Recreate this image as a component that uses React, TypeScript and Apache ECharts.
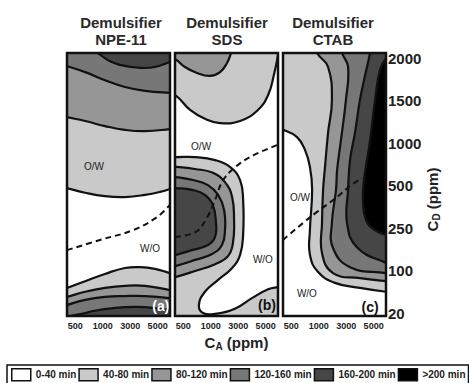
import React, { useEffect, useRef } from 'react';
import * as echarts from 'echarts';

// ---------- axes / categories ----------
const CA_LABELS = ['500', '1000', '3000', '5000'];
const CD_LABELS = ['20', '100', '250', '500', '1000', '1500', '2000'];
const CLASS_NAMES = ['0-40 min', '40-80 min', '80-120 min', '120-160 min', '160-200 min', '>200 min'];
const PANEL_TITLES = ['Demulsifier\nNPE-11', 'Demulsifier\nSDS', 'Demulsifier\nCTAB'];

// ---------- contour lines, points are [CA position, CD position] ----------
// (a) NPE-11
const NPE_160_TOP = [[0.68, 6.3], [1.08, 6.0], [1.63, 5.84], [2.36, 5.77], [2.9, 5.79], [3.45, 5.91], [3.65, 5.96]];
const NPE_120_TOP = [[-0.5, 5.84], [-0.3, 5.81], [0.36, 5.67], [1.08, 5.48], [1.81, 5.32], [2.54, 5.23], [3.45, 5.18], [3.65, 5.18]];
const NPE_80_TOP = [[-0.5, 4.64], [-0.3, 4.61], [0.36, 4.52], [1.08, 4.4], [1.81, 4.31], [2.54, 4.28], [3.45, 4.33], [3.65, 4.35]];
const NPE_40_TOP = [[-0.5, 2.97], [-0.3, 2.94], [0.36, 2.83], [1.08, 2.75], [1.81, 2.73], [2.54, 2.78], [3.09, 2.85], [3.45, 2.92], [3.65, 2.97]];
const NPE_40_BOTTOM = [[-0.5, 0.56], [-0.3, 0.59], [0.36, 0.75], [1.08, 0.92], [1.81, 1.06], [2.36, 1.08], [2.9, 1.04], [3.45, 0.94], [3.65, 0.92]];
const NPE_80_BOTTOM = [[-0.5, 0.35], [-0.3, 0.38], [0.36, 0.5], [1.08, 0.59], [1.81, 0.64], [2.54, 0.64], [3.45, 0.54], [3.65, 0.52]];
const NPE_120_BOTTOM = [[-0.5, 0.14], [-0.3, 0.19], [0.36, 0.31], [1.08, 0.38], [1.81, 0.4], [2.54, 0.4], [3.45, 0.35], [3.65, 0.33]];
const NPE_160_BOTTOM = [[-0.3, -0.2], [0.36, 0.0], [1.08, 0.09], [1.81, 0.14], [2.54, 0.14], [3.45, 0.07], [3.65, 0.05]];
const NPE_BOUNDARY = [[-0.3, 1.48], [0.9, 1.72], [2.1, 1.95], [2.98, 2.26], [3.45, 2.55]];
const NPE_NOTES: [string, number, number][] = [['O/W', 0.68, 3.46], ['W/O', 2.72, 1.53], ['(a)', 3.12, 0.17]];

// (b) SDS
const SDS_80_TOP = [[-0.5, 6.0], [-0.26, 5.96], [0.06, 5.79], [0.5, 5.65], [0.97, 5.58], [1.34, 5.67], [1.59, 5.88], [1.74, 6.12], [1.81, 6.3]];
const SDS_40_TOP = [[-0.5, 5.13], [-0.26, 5.11], [0.25, 4.78], [0.79, 4.57], [1.34, 4.47], [2.07, 4.52], [2.72, 4.78], [3.09, 5.13], [3.3, 5.6], [3.45, 6.07], [3.5, 6.3]];
const SDS_40_MID = [[-0.5, 3.67], [-0.26, 3.67], [0.43, 3.67], [1.16, 3.6], [1.7, 3.44], [2.07, 3.13], [2.18, 2.66], [2.18, 1.84], [2.07, 1.37], [1.78, 1.06], [1.27, 0.78], [0.79, 0.5], [0.57, 0.19], [0.72, 0.0], [1.16, -0.02], [1.88, 0.1], [2.5, 0.35], [3.09, 0.56], [3.45, 0.61], [3.65, 0.62]];
const SDS_80_MID = [[-0.5, 3.44], [-0.26, 3.44], [0.43, 3.39], [1.08, 3.3], [1.52, 3.08], [1.78, 2.73], [1.85, 2.19], [1.81, 1.65], [1.63, 1.34], [1.16, 1.15], [0.43, 0.99], [-0.26, 0.85], [-0.5, 0.82]];
const SDS_120_MID = [[-0.5, 3.2], [-0.26, 3.2], [0.36, 3.13], [0.9, 3.01], [1.27, 2.78], [1.49, 2.42], [1.52, 1.95], [1.41, 1.6], [1.05, 1.39], [0.43, 1.25], [-0.26, 1.11], [-0.5, 1.08]];
const SDS_160_MID = [[-0.5, 2.94], [-0.26, 2.94], [0.32, 2.9], [0.79, 2.78], [1.08, 2.54], [1.19, 2.14], [1.16, 1.79], [0.9, 1.6], [0.32, 1.48], [-0.26, 1.37], [-0.5, 1.34]];
const SDS_BOUNDARY = [[-0.3, 1.79], [0.46, 1.91], [0.86, 2.24], [1.16, 2.66], [1.41, 3.08], [1.78, 3.37], [2.43, 3.67], [3.45, 3.96]];
const SDS_NOTES: [string, number, number][] = [['O/W', 0.65, 3.93], ['W/O', 2.9, 1.27], ['(b)', 3.05, 0.19]];

// (c) CTAB
const CTAB_40 = [[-0.5, 4.31], [-0.3, 4.31], [0.21, 4.14], [0.5, 3.84], [0.68, 3.44], [0.76, 2.9], [0.68, 1.95], [0.68, 1.37], [0.97, 0.97], [1.59, 0.71], [2.5, 0.59], [3.45, 0.5], [3.65, 0.5]];
const CTAB_80 = [[0.9, 6.3], [0.94, 6.12], [1.34, 5.79], [1.48, 5.01], [1.34, 4.24], [1.23, 3.44], [1.16, 2.9], [1.12, 2.12], [1.12, 1.41], [1.52, 0.94], [2.5, 0.82], [3.45, 0.75], [3.65, 0.75]];
const CTAB_120 = [[1.81, 6.3], [1.85, 6.12], [2.07, 5.79], [1.99, 5.01], [1.81, 4.07], [1.67, 3.37], [1.63, 2.9], [1.48, 2.12], [1.52, 1.53], [2.14, 1.08], [3.45, 0.94], [3.65, 0.94]];
const CTAB_160 = [[2.9, 6.3], [2.87, 6.12], [2.69, 5.6], [2.5, 5.01], [2.32, 4.24], [2.14, 3.6], [2.07, 2.9], [2.03, 2.12], [2.39, 1.55], [3.45, 1.18], [3.65, 1.18]];
const CTAB_200 = [[3.65, 6.05], [3.45, 6.0], [3.23, 5.72], [3.05, 5.01], [2.87, 4.07], [2.65, 3.13], [2.61, 2.66], [2.72, 2.19], [3.05, 1.95], [3.45, 1.84], [3.65, 1.81]];
const CTAB_BOUNDARY = [[-0.3, 1.72], [0.43, 2.12], [0.94, 2.38], [1.67, 2.73], [2.14, 2.99], [2.58, 3.18]];
const CTAB_NOTES: [string, number, number][] = [['O/W', 0.32, 2.73], ['W/O', 0.57, 0.47], ['(c)', 2.87, 0.14]];

// ---------- region tables (level = index in CLASS_NAMES) ----------
type Region = { level: number; line: number[][]; close: 'top' | 'bottom' | 'none' };
const PANELS: { regions: Region[]; boundary: number[][]; notes: [string, number, number][] }[] = [
  {
    regions: [
      { level: 1, line: NPE_40_TOP, close: 'top' },
      { level: 1, line: NPE_40_BOTTOM, close: 'bottom' },
      { level: 2, line: NPE_80_TOP, close: 'top' },
      { level: 2, line: NPE_80_BOTTOM, close: 'bottom' },
      { level: 3, line: NPE_120_TOP, close: 'top' },
      { level: 3, line: NPE_120_BOTTOM, close: 'bottom' },
      { level: 4, line: NPE_160_TOP, close: 'top' },
      { level: 4, line: NPE_160_BOTTOM, close: 'bottom' },
    ],
    boundary: NPE_BOUNDARY,
    notes: NPE_NOTES,
  },
  {
    regions: [
      { level: 1, line: SDS_40_TOP, close: 'top' },
      { level: 1, line: SDS_40_MID, close: 'bottom' },
      { level: 2, line: SDS_80_TOP, close: 'top' },
      { level: 2, line: SDS_80_MID, close: 'none' },
      { level: 3, line: SDS_120_MID, close: 'none' },
      { level: 4, line: SDS_160_MID, close: 'none' },
    ],
    boundary: SDS_BOUNDARY,
    notes: SDS_NOTES,
  },
  {
    regions: [
      { level: 1, line: CTAB_40, close: 'top' },
      { level: 2, line: CTAB_80, close: 'top' },
      { level: 3, line: CTAB_120, close: 'top' },
      { level: 4, line: CTAB_160, close: 'top' },
      { level: 5, line: CTAB_200, close: 'none' },
    ],
    boundary: CTAB_BOUNDARY,
    notes: CTAB_NOTES,
  },
];

// ---------- styles / layout ----------
const CLASS_COLORS = ['#ffffff', '#c9c9c9', '#969696', '#777777', '#464646', '#000000'];
const FONT = 'Arial, "Liberation Sans", Helvetica, sans-serif';
const GRID_LEFTS = [67, 175, 283];
const TITLE_X = [121, 227, 333];
const TAG_COLORS = ['#ffffff', '#111111', '#111111'];
const X_MIN = -0.3;
const X_MAX = 3.45;
const Y_MIN = -0.07;
const Y_MAX = 6.12;

function closeRing(line: number[][], close: string): number[][] {
  const pts = line.slice();
  const first = line[0];
  const last = line[line.length - 1];
  if (close === 'top') pts.push([last[0], 8.5], [first[0], 8.5]);
  else if (close === 'bottom') pts.push([last[0], -2.5], [first[0], -2.5]);
  return pts;
}

function buildOption(): any {
  const series: any[] = [];
  for (let lvl = 0; lvl < CLASS_NAMES.length; lvl++) {
    PANELS.forEach((panel, p) => {
      if (lvl === 0) {
        series.push({
          type: 'custom', name: CLASS_NAMES[0], xAxisIndex: p, yAxisIndex: p, clip: true, silent: true,
          itemStyle: { color: CLASS_COLORS[0] },
          data: [[0, 0]],
          renderItem: (params: any) => {
            const cs = params.coordSys;
            return { type: 'rect', shape: { x: cs.x, y: cs.y, width: cs.width, height: cs.height }, style: { fill: CLASS_COLORS[0] } };
          },
        });
        return;
      }
      const regs = panel.regions.filter((r) => r.level === lvl);
      series.push({
        type: 'custom', name: CLASS_NAMES[lvl], xAxisIndex: p, yAxisIndex: p, clip: true, silent: true,
        itemStyle: { color: CLASS_COLORS[lvl] },
        data: regs.map(() => [0, 0]),
        renderItem: (params: any, api: any) => {
          const r = regs[params.dataIndex];
          const pts = closeRing(r.line, r.close).map((pt) => api.coord(pt));
          return {
            type: 'polygon',
            shape: { points: pts, smooth: 0.45 },
            style: { fill: CLASS_COLORS[lvl], stroke: '#111', lineWidth: 2.2 },
          };
        },
      });
    });
  }
  PANELS.forEach((panel, p) => {
    series.push({
      type: 'line', xAxisIndex: p, yAxisIndex: p, data: panel.boundary, smooth: 0.4, symbol: 'none',
      clip: true, silent: true,
      lineStyle: { color: '#111', width: 2, type: [6, 4] },
    });
  });
  PANELS.forEach((panel, p) => {
    series.push({
      type: 'custom', xAxisIndex: p, yAxisIndex: p, clip: false, silent: true, z: 5,
      data: panel.notes.map((n) => [n[1], n[2]]),
      renderItem: (params: any, api: any) => {
        const n = panel.notes[params.dataIndex];
        const pt = api.coord([n[1], n[2]]);
        const isTag = n[0].startsWith('(');
        return {
          type: 'text', x: pt[0], y: pt[1],
          style: {
            text: n[0],
            fill: isTag ? TAG_COLORS[p] : '#222',
            fontSize: isTag ? 14 : 10,
            fontWeight: isTag ? 'bold' : 'normal',
            fontFamily: FONT,
            align: 'center',
            verticalAlign: 'middle',
          },
        };
      },
    });
  });

  const richSub = {
    b: { fontSize: 15, fontWeight: 'bold', color: '#222', fontFamily: FONT },
    s: { fontSize: 10, fontWeight: 'bold', color: '#222', fontFamily: FONT, padding: [8, 0, 0, 0] },
  };

  return {
    animation: false,
    textStyle: { fontFamily: FONT },
    grid: GRID_LEFTS.map((l) => ({
      left: l, width: 103, top: 53, height: 263, show: true,
      borderColor: '#111', borderWidth: 2.5, backgroundColor: 'transparent', z: 10,
    })),
    xAxis: GRID_LEFTS.map((_, i) => ({
      type: 'value', gridIndex: i, min: X_MIN, max: X_MAX,
      splitLine: { show: false }, axisTick: { show: false }, axisLine: { show: false },
      axisLabel: {
        customValues: [0, 1, 2, 3],
        formatter: (v: number) => CA_LABELS[Math.round(v)],
        fontSize: 9, fontWeight: 'bold', color: '#222', margin: 5,
      },
      ...(i === 1
        ? {
            name: '{b|C}{s|A}{b| (ppm)}', nameLocation: 'middle', nameGap: 17,
            nameTextStyle: { rich: richSub, padding: [0, 0, 0, 20] },
          }
        : {}),
    })),
    yAxis: GRID_LEFTS.map((_, i) => ({
      type: 'value', gridIndex: i, min: Y_MIN, max: Y_MAX,
      position: 'right',
      splitLine: { show: false }, axisTick: { show: false }, axisLine: { show: false },
      axisLabel: i === 2
        ? {
            customValues: [0, 1, 2, 3, 4, 5, 6],
            formatter: (v: number) => CD_LABELS[Math.round(v)],
            fontSize: 15, fontWeight: 'bold', color: '#222', margin: 2,
          }
        : { show: false },
      ...(i === 2
        ? {
            name: '{b|C}{s|D}{b| (ppm)}', nameLocation: 'middle', nameGap: 21,
            nameTextStyle: { rich: richSub, padding: [0, 30, 0, 0] },
          }
        : {}),
    })),
    legend: {
      left: 7, top: 365, width: 462, orient: 'horizontal', selectedMode: false,
      itemWidth: 19, itemHeight: 12, itemGap: 2,
      borderColor: '#111', borderWidth: 1.5, padding: [3, 3, 3, 4],
      textStyle: { fontSize: 10, fontWeight: 'bold', color: '#222', fontFamily: FONT },
      itemStyle: { borderColor: '#111', borderWidth: 1.5 },
      data: CLASS_NAMES.map((n, i) => ({
        name: n, icon: 'rect',
        itemStyle: { color: CLASS_COLORS[i], borderColor: '#111', borderWidth: 1.5 },
      })),
    },
    graphic: PANEL_TITLES.map((t, i) => ({
      type: 'text', x: TITLE_X[i], y: 14,
      style: {
        text: t, align: 'center', verticalAlign: 'top', fontSize: 15, fontWeight: 'bold',
        fill: '#2a2a2a', lineHeight: 17, fontFamily: FONT,
      },
    })),
    series,
  };
}

export default function App() {
  const ref = useRef<HTMLDivElement>(null);
  useEffect(() => {
    document.body.style.margin = '0';
    const chart = echarts.init(ref.current!, null, { renderer: 'svg' });
    chart.setOption(buildOption());
    return () => chart.dispose();
  }, []);
  return <div ref={ref} style={{ width: 469, height: 383 }} />;
}
